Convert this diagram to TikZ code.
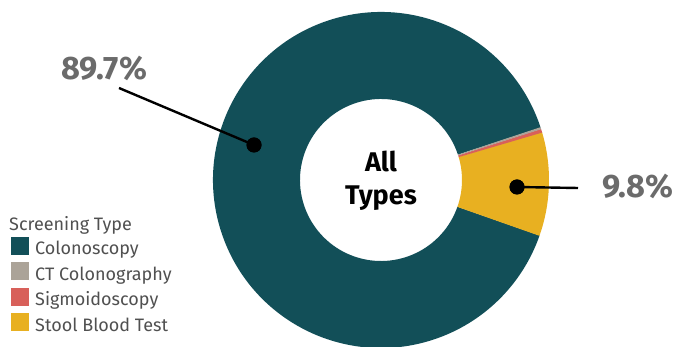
\documentclass[tikz,border=0pt]{standalone}
\usepackage{fontspec}
\setmainfont{Fira Sans}
\definecolor{colteal}{HTML}{124F58}
\definecolor{colgrey}{HTML}{ABA398}
\definecolor{colred}{HTML}{D8605A}
\definecolor{colyellow}{HTML}{E8B021}
\definecolor{pctgrey}{HTML}{6B6B6B}
\definecolor{leggrey}{HTML}{505050}
\newcommand\ringsector[3]{\fill[#1] (#2:168pt) arc[start angle=#2,end angle=#3,radius=168pt] -- (#3:81pt) arc[start angle=#3,end angle=#2,radius=81pt] -- cycle;}
\begin{document}
\begin{tikzpicture}[x=1pt,y=1pt,
  dotmark/.style={circle,fill=black,inner sep=0pt,minimum size=15pt},
  pct/.style={font=\fontsize{32.5}{32.5}\selectfont\bfseries,text=pctgrey,inner sep=0pt,anchor=base west},
  ctr/.style={font=\fontsize{27}{27}\selectfont\bfseries,inner sep=0pt,anchor=base},
  legsq/.style={inner sep=0pt,minimum size=18pt,anchor=south west},
  legtxt/.style={font=\fontsize{18}{18}\selectfont,text=leggrey,inner sep=0pt,anchor=base west},
  leader/.style={line width=2.4pt}]
\useasboundingbox (0,0) rectangle (677,347);
\fill[white] (0,0) rectangle (677,347);
\begin{scope}[shift={(381,167)}]
  \ringsector{colteal}{18.2}{340.7}
  \ringsector{colyellow}{-19.4}{16.6}
  \ringsector{colred}{16.4}{17.7}
  \ringsector{colgrey}{17.6}{18.3}
\end{scope}
% centre text
\node[ctr] (tall) at (381,175) {All};
\node[ctr] (ttypes) at (381,142) {Types};
% labels and leaders
\node[pct] (p89) at (61,267) {89.7\%};
\node[pct] (p98) at (602,149) {9.8\%};
\coordinate (c89) at (119,259);
\coordinate (c98) at (578,159);
\node[dotmark] (d89) at (254,202) {};
\node[dotmark] (d98) at (517,160) {};
\draw[leader] (c89) -- (d89.center);
\draw[leader] (c98) -- (d98.center);
\node[dotmark] at (d89) {};
\node[dotmark] at (d98) {};
% legend
\node[legtxt] (lt) at (9,116.5) {Screening Type};
\node[legsq,fill=colteal] (s1) at (11,92) {};
\node[legsq,fill=colgrey] (s2) at (11,66.5) {};
\node[legsq,fill=colred] (s3) at (11,41) {};
\node[legsq,fill=colyellow] (s4) at (11,15.5) {};
\node[legtxt] (t1) at (35,92) {Colonoscopy};
\node[legtxt] (t2) at (35,66.5) {CT Colonography};
\node[legtxt] (t3) at (35,41) {Sigmoidoscopy};
\node[legtxt] (t4) at (35,15.5) {Stool Blood Test};
\end{tikzpicture}
\end{document}
